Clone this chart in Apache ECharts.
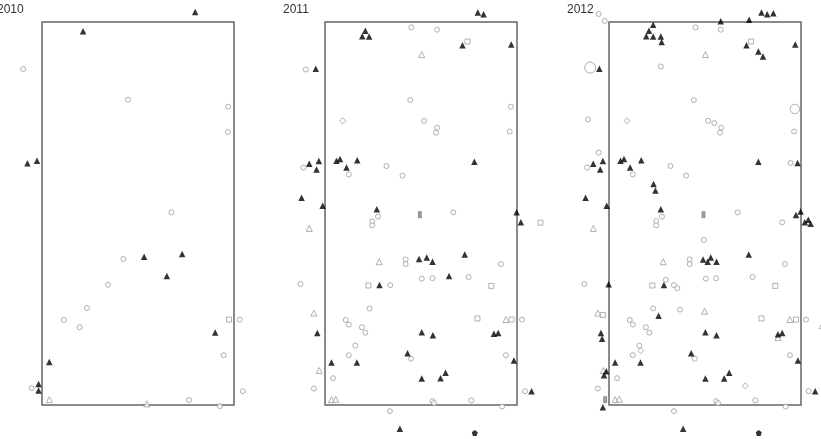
<!DOCTYPE html>
<html>
<head>
<meta charset="utf-8">
<script src="https://cdn.jsdelivr.net/npm/echarts@6/dist/echarts.min.js"></script>
<style>
  html, body { margin: 0; padding: 0; background: #fff; }
  #chart { width: 821px; height: 439px; }
</style>
</head>
<body>
<div id="chart"></div>
<script>
// plot coordinates in metres, 50 x 100 plot, origin bottom-left
const years = ['2010', '2011', '2012'];

// 2010
const c2010 = [[-4.9, 87.7], [22.4, 79.7], [48.5, 77.9], [48.4, 71.3], [33.7, 50.3], [21.2, 38.1], [17.2, 31.4],
  [11.7, 25.3], [5.7, 22.2], [9.8, 20.3], [51.5, 22.3], [47.3, 13.0], [-2.7, 4.4], [52.3, 3.6], [38.3, 1.3], [46.3, -0.3]];
const t2010 = [[39.9, 102.6], [10.7, 97.6], [-3.8, 63.1], [-1.3, 63.8], [26.6, 38.7], [36.5, 39.4], [32.5, 33.7],
  [45.1, 18.9], [1.9, 11.2], [-0.9, 5.5], [-0.9, 3.8]];
const ot2010 = [[1.9, 1.4], [27.3, 0.3]];
const sq2010 = [[48.7, 22.3]];
const dm2010 = [];
const gb2010 = [];
const pt2010 = [];
const big2010 = [];

// 2011
const c2011 = [[22.5, 98.6], [29.2, 98.0], [-5.0, 87.6], [22.2, 79.6], [48.4, 77.9], [25.8, 74.2], [29.2, 72.4],
  [28.9, 71.1], [48.1, 71.4], [-5.6, 62.0], [6.2, 60.2], [16.0, 62.4], [20.2, 59.9], [13.8, 49.2], [33.4, 50.3],
  [12.3, 47.9], [12.3, 46.9], [21.0, 38.0], [21.0, 36.8], [45.8, 36.8], [-6.4, 31.6], [17.0, 31.3], [25.2, 33.0],
  [28.0, 33.1], [37.4, 33.4], [11.6, 25.2], [5.4, 22.2], [6.2, 21.0], [9.6, 20.3], [10.5, 18.9], [51.3, 22.3],
  [7.9, 15.5], [6.2, 13.0], [22.4, 12.1], [47.1, 13.0], [2.1, 7.0], [-2.9, 4.3], [52.1, 3.6], [28.0, 1.0],
  [28.4, 0.5], [38.1, 1.2], [46.1, -0.4], [16.9, -1.6]];
const t2011 = [[39.8, 102.5], [41.3, 102.0], [10.5, 97.7], [9.7, 96.3], [11.5, 96.2], [35.8, 93.9], [48.5, 94.1],
  [-2.4, 87.8], [-4.1, 63.0], [-2.2, 61.5], [-1.6, 63.7], [3.0, 63.8], [3.9, 64.2], [5.6, 62.0], [8.4, 63.9],
  [38.9, 63.5], [-6.1, 54.1], [-0.6, 52.0], [13.5, 51.1], [49.9, 50.3], [51.0, 47.7], [24.5, 38.1], [26.5, 38.5],
  [28.0, 37.4], [36.4, 39.3], [14.2, 31.3], [32.3, 33.7], [-2.0, 18.8], [25.2, 19.0], [28.1, 18.2], [44.0, 18.6],
  [45.1, 18.8], [21.5, 13.5], [49.2, 11.6], [1.7, 11.1], [8.3, 11.1], [25.2, 6.9], [30.1, 7.0], [31.4, 8.4],
  [53.8, 3.6], [19.5, -6.2]];
const ot2011 = [[25.2, 91.5], [-4.1, 46.1], [14.1, 37.4], [-2.9, 24.0], [47.1, 22.3], [-1.5, 9.0], [1.7, 1.4], [2.8, 1.5]];
const sq2011 = [[37.1, 94.9], [56.1, 47.6], [11.3, 31.2], [43.3, 31.1], [39.7, 22.6], [48.6, 22.3]];
const dm2011 = [[4.6, 74.2]];
const gb2011 = [[24.7, 49.7]];
const pt2011 = [[39.0, -7.3]];
const big2011 = [];

// 2012
const c2012 = [[-2.7, 102.1], [-1.1, 100.3], [22.5, 98.6], [29.1, 98.0], [13.5, 88.4], [22.1, 79.6], [-5.5, 74.6],
  [25.8, 74.2], [27.4, 73.6], [29.2, 72.4], [28.9, 71.1], [48.2, 71.4], [-2.7, 65.9], [-5.7, 62.0], [6.2, 60.2],
  [16.0, 62.4], [20.1, 59.9], [47.3, 63.2], [13.8, 49.2], [33.5, 50.3], [12.3, 48.0], [12.3, 46.9], [45.1, 47.7],
  [24.7, 43.1], [21.0, 38.0], [21.0, 36.8], [45.8, 36.8], [-6.4, 31.6], [14.8, 32.7], [16.9, 31.3], [17.8, 30.5],
  [25.2, 33.0], [27.9, 33.1], [37.4, 33.4], [11.5, 25.2], [18.5, 24.9], [5.4, 22.2], [6.2, 21.0], [9.6, 20.3],
  [10.5, 18.9], [51.3, 22.3], [7.9, 15.5], [6.2, 13.0], [22.3, 12.1], [47.1, 13.0], [2.1, 7.0], [-2.9, 4.3],
  [52.0, 3.6], [27.9, 1.0], [28.4, 0.5], [38.1, 1.2], [46.0, -0.4], [16.9, -1.6]];
const t2012 = [[39.7, 102.5], [41.2, 102.0], [42.8, 102.3], [29.1, 100.2], [36.5, 100.6], [11.5, 99.3], [10.4, 97.7],
  [9.7, 96.3], [11.5, 96.2], [13.5, 96.2], [13.7, 94.8], [35.8, 93.9], [38.9, 92.3], [40.1, 91.0], [48.5, 94.1],
  [-2.5, 87.8], [-4.1, 63.0], [-2.3, 61.5], [-1.6, 63.7], [3.0, 63.8], [3.9, 64.2], [5.5, 62.0], [8.4, 63.9],
  [38.9, 63.5], [49.1, 63.2], [11.6, 57.7], [12.1, 56.0], [-6.1, 54.1], [-0.6, 52.0], [13.5, 51.1], [48.7, 49.6],
  [49.9, 50.5], [51.0, 47.7], [51.9, 48.4], [52.5, 47.3], [24.5, 38.0], [25.7, 37.4], [26.5, 38.5], [28.0, 37.4],
  [36.4, 39.3], [-0.1, 31.5], [14.3, 31.3], [12.9, 23.3], [-2.1, 18.8], [-1.8, 17.3], [25.1, 19.0], [28.0, 18.2],
  [44.0, 18.5], [45.1, 18.8], [21.4, 13.5], [49.2, 11.6], [1.6, 11.1], [8.2, 11.1], [-0.7, 8.8], [-1.3, 7.8],
  [25.1, 6.9], [30.0, 6.9], [31.3, 8.4], [53.7, 3.6], [-1.6, -0.6], [19.3, -6.2]];
const ot2012 = [[25.1, 91.5], [-4.1, 46.1], [14.1, 37.4], [-2.9, 24.0], [24.9, 24.5], [47.1, 22.3], [55.5, 20.7],
  [44.0, 17.6], [-1.5, 9.0], [1.6, 1.4], [2.7, 1.5]];
const sq2012 = [[37.0, 94.9], [56.1, 47.6], [11.3, 31.2], [43.3, 31.1], [-1.6, 23.5], [39.7, 22.6], [48.7, 22.3]];
const dm2012 = [[4.7, 74.2], [8.3, 14.2], [35.5, 5.0]];
const gb2012 = [[24.6, 49.7], [-1.0, 1.4]];
const pt2012 = [[39.0, -7.3]];
const big2012 = [[-4.9, 88.1, 11], [48.4, 77.3, 9.5]];

const panels = [
  {c: c2010, t: t2010, ot: ot2010, sq: sq2010, dm: dm2010, gb: gb2010, pt: pt2010, big: big2010},
  {c: c2011, t: t2011, ot: ot2011, sq: sq2011, dm: dm2011, gb: gb2011, pt: pt2011, big: big2011},
  {c: c2012, t: t2012, ot: ot2012, sq: sq2012, dm: dm2012, gb: gb2012, pt: pt2012, big: big2012}
];

const gridLefts = [42, 325, 609];
const titleLefts = [-3, 283, 567];

const openStyle = {color: '#fff', borderColor: '#9c9c9c', borderWidth: 1};
const pentagon = 'path://M0,-10 L9.5,-3.1 L5.9,8.1 L-5.9,8.1 L-9.5,-3.1 Z';

let grid = [], xAxis = [], yAxis = [], series = [], title = [];
panels.forEach((p, i) => {
  grid.push({left: gridLefts[i], top: 22, width: 192, height: 383, show: true,
    borderColor: '#666', borderWidth: 1.5, backgroundColor: 'transparent'});
  xAxis.push({type: 'value', gridIndex: i, min: 0, max: 50, show: false});
  yAxis.push({type: 'value', gridIndex: i, min: 0, max: 100, show: false});
  title.push({text: years[i], left: titleLefts[i], top: 4, padding: 0,
    textStyle: {fontSize: 12, fontWeight: 'normal', color: '#333', fontFamily: 'Arial, Liberation Sans'}});
  const base = {type: 'scatter', xAxisIndex: i, yAxisIndex: i, clip: false, silent: true, animation: false};
  series.push(Object.assign({}, base, {data: p.c, symbol: 'circle', symbolSize: 5, itemStyle: openStyle}));
  series.push(Object.assign({}, base, {data: p.big, symbol: 'circle',
    symbolSize: v => v[2], itemStyle: openStyle}));
  series.push(Object.assign({}, base, {data: p.ot, symbol: 'triangle', symbolSize: 6, itemStyle: openStyle}));
  series.push(Object.assign({}, base, {data: p.sq, symbol: 'rect', symbolSize: 5, itemStyle: openStyle}));
  series.push(Object.assign({}, base, {data: p.dm, symbol: 'diamond', symbolSize: 6, itemStyle: openStyle}));
  series.push(Object.assign({}, base, {data: p.gb, symbol: 'rect', symbolSize: [4, 7],
    itemStyle: {color: '#808080'}}));
  series.push(Object.assign({}, base, {data: p.t, symbol: 'triangle', symbolSize: 6.5,
    itemStyle: {color: '#000'}}));
  series.push(Object.assign({}, base, {data: p.pt, symbol: pentagon, symbolSize: 6,
    itemStyle: {color: '#000'}}));
});

let option = {
  backgroundColor: '#fff',
  animation: false,
  title: title,
  grid: grid,
  xAxis: xAxis,
  yAxis: yAxis,
  series: series
};

let myChart = echarts.init(document.getElementById('chart'));
myChart.setOption(option);
</script>
</body>
</html>
